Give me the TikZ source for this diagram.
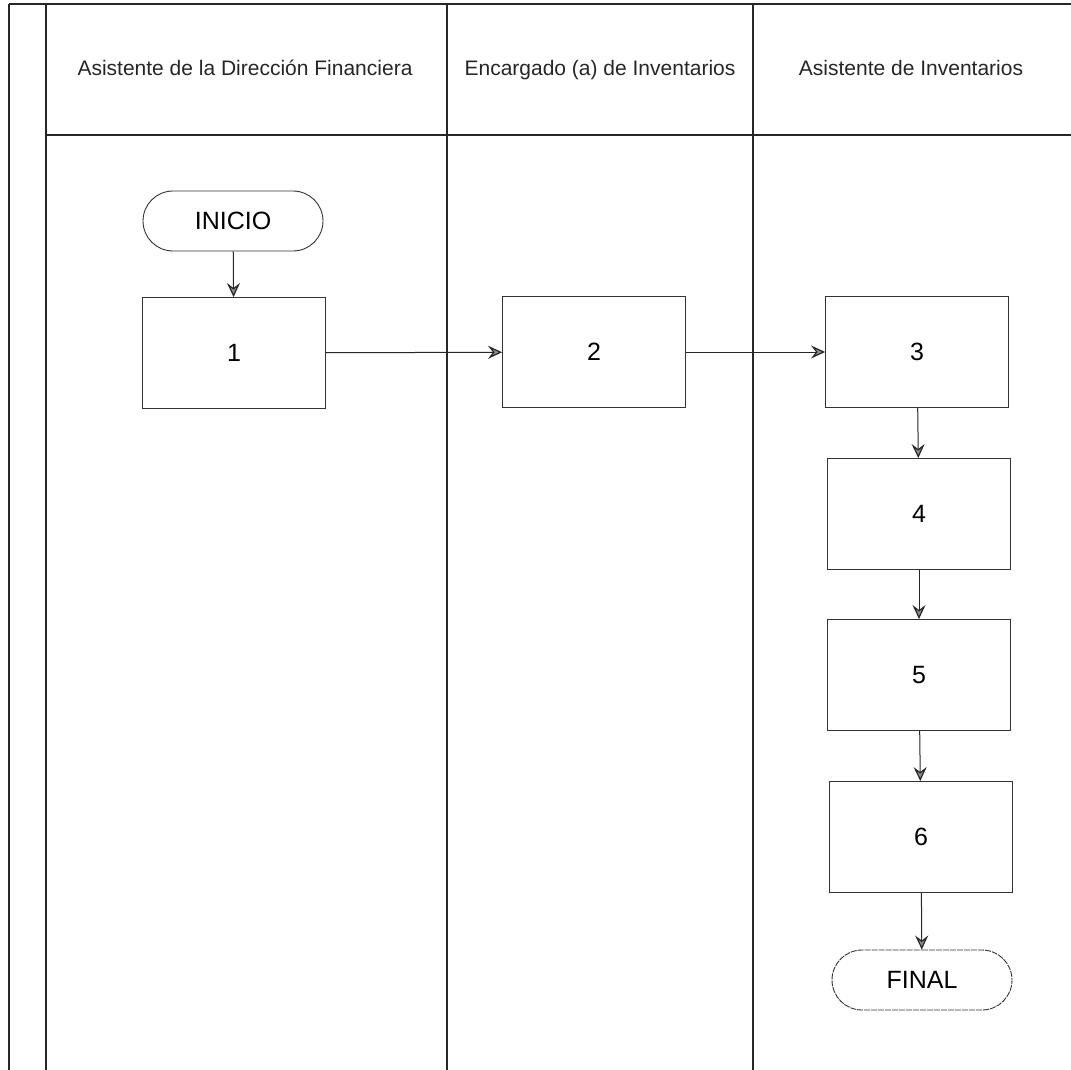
\documentclass[tikz,border=0pt]{standalone}
\usepackage{fontspec}
\setmainfont{Liberation Sans}
\usetikzlibrary{arrows.meta,shapes.misc}
\begin{document}
\begin{tikzpicture}[x=1pt,y=-1pt,
  lane/.style={draw=black!85,line width=1.1pt},
  hdr/.style={font=\fontsize{21}{24}\selectfont,text=black!85,anchor=center,text height=15pt,text depth=4pt},
  proc/.style={draw=black!80,line width=0.9pt,minimum width=183pt,minimum height=111pt,inner sep=0pt,font=\fontsize{25}{27}\selectfont},
  term/.style={draw=black!80,line width=0.9pt,rounded rectangle,minimum width=180pt,minimum height=60pt,inner sep=0pt,font=\fontsize{25}{27}\selectfont},
  flow/.style={draw=black!85,line width=1pt,-{Stealth[length=14pt,width=13pt,inset=5pt,fill=black!45,line width=1.2pt]}}]
\useasboundingbox (0,0) rectangle (1071,1070);
% lane lines
\draw[lane] (9,4) -- (1071,4);
\draw[lane] (46,135) -- (1071,135);
\draw[lane] (9,4) -- (9,1070);
\draw[lane] (46,4) -- (46,1070);
\draw[lane] (447,4) -- (447,1070);
\draw[lane] (753,4) -- (753,1070);
% headers
\node[hdr] (h1) at (245,70) {Asistente de la Dirección Financiera};
\node[hdr] (h2) at (600,70) {Encargado (a) de Inventarios};
\node[hdr] (h3) at (911,70) {Asistente de Inventarios};
% nodes
\node[term] (ini) at (233,221) {INICIO};
\node[proc] (n1) at (234,353) {1};
\node[proc] (n2) at (594,352) {2};
\node[proc] (n3) at (917,352) {3};
\node[proc] (n4) at (919,514) {4};
\node[proc] (n5) at (919,675) {5};
\node[proc] (n6) at (921,837) {6};
\node[term,dashed,dash pattern=on 6pt off 1pt] (fin) at (922,980) {FINAL};
% connectors
\draw[flow] (ini) -- (n1);
\draw[flow] (n1) -- (n2);
\draw[flow] (n2) -- (n3);
\draw[flow] (n3) -- (n4);
\draw[flow] (n4) -- (n5);
\draw[flow] (n5) -- (n6);
\draw[flow] (n6) -- (fin);
\end{tikzpicture}
\end{document}
